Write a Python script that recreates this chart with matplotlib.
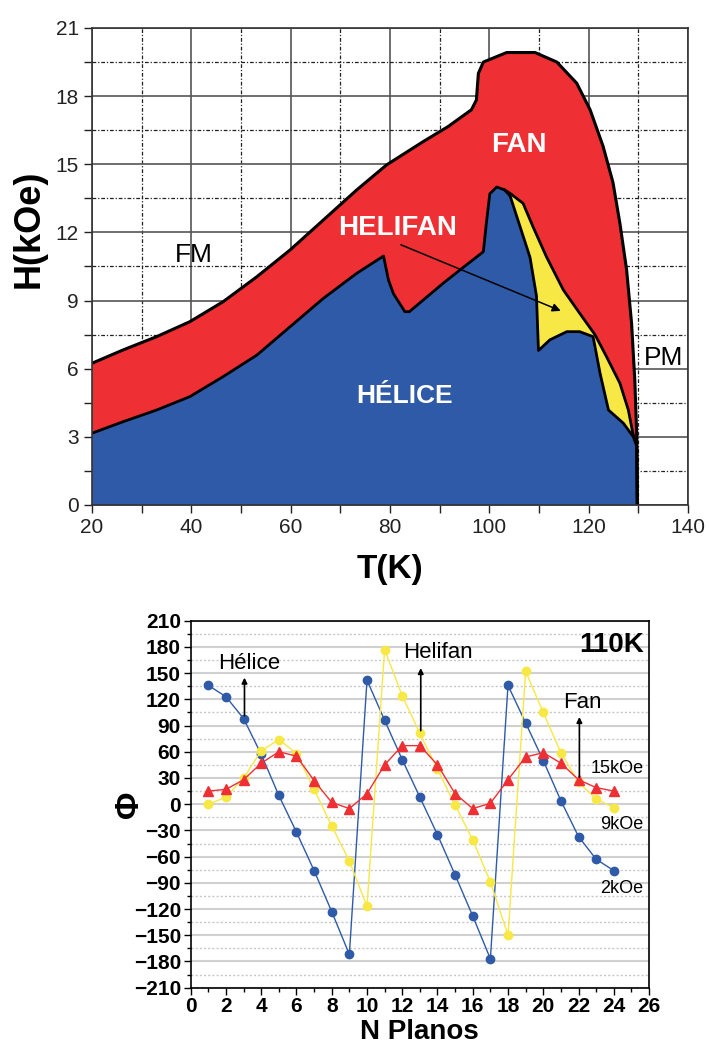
import matplotlib
matplotlib.use("Agg")
import matplotlib.pyplot as plt
from matplotlib.ticker import MultipleLocator

plt.rcParams['font.family'] = ['Liberation Sans', 'DejaVu Sans']

# ---- diagrama de fases H-T (bordes) ----
T_red = [20, 26.3, 33.0, 39.7, 46.4, 53.2, 59.9, 66.6, 73.3, 79.3, 86.7, 91.7, 96.4, 97.4, 97.8,
         98.8, 103.5, 109.2, 113.6, 117.6, 120.3, 122.9, 124.9, 126.3, 127.65, 128.65, 129.3,
         129.7, 129.8]
H_red = [6.24, 6.83, 7.41, 8.07, 8.95, 10.05, 11.23, 12.55, 13.87, 14.97, 16.0, 16.66, 17.4, 17.83,
         19.0, 19.5, 19.92, 19.92, 19.5, 18.57, 17.4, 15.8, 14.2, 12.4, 10.35, 8.0, 5.5,
         3.0, 0]

T_yellow = [103.1, 104.3, 106.8, 108.8, 111.5, 114.9, 118.2, 121.3, 123.6, 126.3, 128.0, 128.9,
            129.7, 129.8]
H_yellow = [13.87, 13.7, 13.28, 12.25, 10.93, 9.47, 8.44, 7.49, 6.53, 5.36, 4.18, 3.16,
            2.6, 0]

T_blue = [20, 26.3, 33.0, 39.7, 46.4, 53.2, 59.9, 66.6, 73.3, 78.7, 79.7, 80.7, 83.0, 83.9, 90.7,
          94.4, 98.8, 99.4, 100.1, 101.5, 103.1, 104.2, 106.2, 108.2, 109.5, 109.9, 112.2,
          115.6, 118.2, 120.9, 122.3, 124.0, 127.0, 129.0, 129.7, 129.8]
H_blue = [3.16, 3.67, 4.18, 4.77, 5.65, 6.6, 7.85, 9.1, 10.2, 10.96, 9.9, 9.3, 8.51, 8.51, 9.76,
          10.4, 11.15, 12.4, 13.7, 14.0, 13.87, 13.6, 12.25, 10.9, 9.2, 6.8, 7.27,
          7.63, 7.63, 7.41, 5.8, 4.18, 3.6, 3.0, 2.6, 0]

# ---- angulo por plano a 110K ----
planos = list(range(1, 25))
phi_2k = [136, 123, 98, 57, 10, -32, -76, -123, -172, 142, 96, 51, 8, -35, -81, -128, -177,
          136, 93, 50, 4, -37, -63, -76]
phi_9k = [0, 8, 30, 61, 74, 58, 17, -25, -65, -117, 177, 124, 81, 40, -1, -41, -89, -150,
          152, 105, 59, 25, 6, -4]
phi_15k = [15, 17, 28, 47, 60, 55, 27, 2, -5, 12, 45, 67, 67, 45, 12, -5, 1, 28, 54, 59,
           47, 28, 19, 15]

azul = '#2e5aa8'
rojo = '#ee2f33'
amarillo = '#f7e845'

fig = plt.figure(figsize=(7.09, 10.56), dpi=100)

ax1 = fig.add_axes([0.1298, 0.5218, 0.8405, 0.4517])
ax1.fill_between(T_red, 0, H_red, color=rojo, zorder=2, lw=0)
ax1.fill_between(T_yellow, 0, H_yellow, color=amarillo, zorder=3, lw=0)
ax1.fill_between(T_blue, 0, H_blue, color=azul, zorder=4, lw=0)
ax1.plot(T_red, H_red, color='black', lw=2.2, zorder=5)
ax1.plot(T_yellow, H_yellow, color='black', lw=2, zorder=5)
ax1.plot(T_blue, H_blue, color='black', lw=2, zorder=5)

ax1.set_xlim(20, 140)
ax1.set_ylim(0, 21)
ax1.xaxis.set_major_locator(MultipleLocator(20))
ax1.xaxis.set_minor_locator(MultipleLocator(10))
ax1.yaxis.set_major_locator(MultipleLocator(3))
ax1.yaxis.set_minor_locator(MultipleLocator(1.5))
ax1.grid(which='major', color='#555555', lw=1.2, zorder=0)
ax1.grid(which='minor', color='#222222', lw=0.9, ls=(0, (3, 1.5, 1, 1.5)), zorder=0)
ax1.tick_params(which='both', direction='out', length=6, width=1, labelsize=15,
                colors='#222222', labelcolor='#222222')
for s in ax1.spines.values():
    s.set_color('#333333')
    s.set_linewidth(1.2)
    s.set_zorder(6)
ax1.set_xlabel('T(K)', fontsize=24, fontweight='bold', labelpad=12)
ax1.set_ylabel('H(kOe)', fontsize=26, fontweight='bold')
ax1.yaxis.set_label_coords(-0.076, 0.58)

ax1.text(106, 15.85, 'FAN', color='white', fontsize=20, fontweight='bold', ha='center', va='center', zorder=7)
ax1.text(81.6, 12.2, 'HELIFAN', color='white', fontsize=20, fontweight='bold', ha='center', va='center', zorder=7)
ax1.text(83, 4.8, 'HÉLICE', color='white', fontsize=19, fontweight='bold', ha='center', va='center', zorder=7)
ax1.text(40.4, 11.0, 'FM', color='black', fontsize=19, ha='center', va='center', zorder=7)
ax1.text(135.0, 6.46, 'PM', color='black', fontsize=19, ha='center', va='center', zorder=7)
ax1.annotate('', xy=(114.9, 8.5), xytext=(81.7, 11.5), zorder=8,
             arrowprops=dict(arrowstyle='-|>', color='black', lw=1.1, mutation_scale=12))

# ---- grafico inferior ----
ax2 = fig.add_axes([0.269, 0.0647, 0.6464, 0.3475])
ax2.plot(planos, phi_2k, color=azul, lw=1, marker='o', ms=6, zorder=3)
ax2.plot(planos, phi_9k, color=amarillo, lw=1, marker='o', ms=6, zorder=4)
ax2.plot(planos, phi_15k, color=rojo, lw=1, marker='^', ms=7, zorder=5)

ax2.set_xlim(0, 26)
ax2.set_ylim(-210, 210)
ax2.xaxis.set_major_locator(MultipleLocator(2))
ax2.xaxis.set_minor_locator(MultipleLocator(1))
ax2.yaxis.set_major_locator(MultipleLocator(30))
ax2.yaxis.set_minor_locator(MultipleLocator(15))
ax2.grid(which='major', axis='y', color='#d0d0d0', lw=1.5, zorder=0)
ax2.grid(which='minor', axis='y', color='#c8c8c8', lw=1, ls=(0, (1.5, 1.5)), zorder=0)
ax2.tick_params(which='major', direction='out', length=5, width=1, labelsize=15, pad=2)
ax2.tick_params(which='minor', direction='out', length=3, width=1)
for lab in ax2.get_xticklabels() + ax2.get_yticklabels():
    lab.set_fontweight('bold')
for s in ax2.spines.values():
    s.set_linewidth(1.2)
ax2.set_xlabel('N Planos', fontsize=20, fontweight='bold', labelpad=2)
ax2.set_ylabel('Φ', fontsize=24, fontweight='bold')
ax2.yaxis.set_label_coords(-0.1, 0.5)

ax2.text(3.3, 161, 'Hélice', fontsize=16, ha='center', va='center')
ax2.text(14.05, 174, 'Helifan', fontsize=16, ha='center', va='center')
ax2.text(22.2, 116, 'Fan', fontsize=16, ha='center', va='center')
ax2.text(25.7, 182, '110K', fontsize=20, fontweight='bold', ha='right', va='center')
ax2.text(25.7, 41, '15kOe', fontsize=13, ha='right', va='center')
ax2.text(25.7, -23, '9kOe', fontsize=13, ha='right', va='center')
ax2.text(25.7, -96, '2kOe', fontsize=13, ha='right', va='center')
for x0, y0, y1 in [(3.05, 98, 148), (13.05, 81, 159), (22.05, 28, 103)]:
    ax2.annotate('', xy=(x0, y1), xytext=(x0, y0), zorder=6,
                 arrowprops=dict(arrowstyle='-|>', color='black', lw=1.2, mutation_scale=8))

fig.savefig('out.png', dpi=100)
